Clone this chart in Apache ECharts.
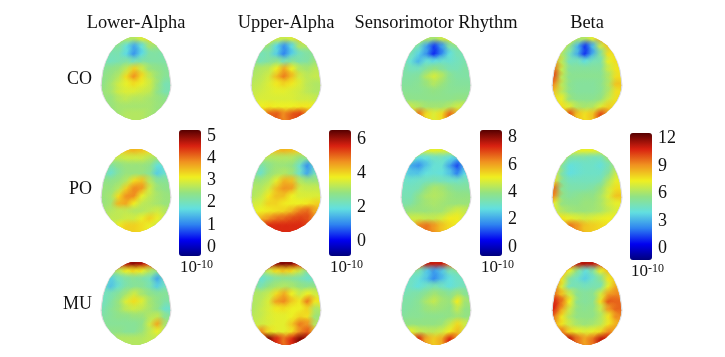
<!DOCTYPE html>
<html><head><meta charset="utf-8">
<style>html,body{margin:0;padding:0;background:#fff}#c{width:725px;height:357px}</style>
<script src="https://cdn.jsdelivr.net/npm/echarts@6/dist/echarts.min.js"></script>
</head><body><div id="c"></div>
<script>
const bandNames = ['Lower-Alpha','Upper-Alpha','Sensorimotor Rhythm','Beta'];
const groupNames = ['CO','PO','MU'];
const bandTicks = [[0,1,2,3,4,5],[0,2,4,6],[0,2,4,6,8],[0,3,6,9,12]];
const bandRanges = [[-0.5,5.2],[-1,6.4],[-0.8,8.4],[-1.5,12.4]];
const jet = ['#00007c','#0000f0','#2f84f0','#62e0e0','#92e284','#f0f020','#f09020','#d82010','#560000'];

// topographic values, sampled on a 9 x 11 grid over each head (x 10^-10)
const lowerCO = [
[2.4,2.4,2.5,2.6,2.6,2.9,3.2,2.6,2.4],[2.2,2.2,2.2,1.7,1.2,1.7,2.5,2.4,2.2],[2.0,2.0,2.0,1.6,1.05,1.6,2.1,2.1,2.0],
[2.1,1.9,2.0,2.1,1.9,2.1,2.1,2.1,2.1],[2.2,2.3,2.4,2.7,3.3,2.8,2.4,2.3,2.2],[2.3,2.4,2.6,3.2,3.75,3.2,2.7,2.4,2.2],
[2.3,2.5,2.8,3.0,3.2,3.0,2.8,2.4,2.0],[2.4,2.5,2.8,2.9,2.9,2.8,2.7,2.3,2.0],[2.4,2.4,2.6,2.7,2.6,2.6,2.5,2.4,2.3],
[2.4,2.4,2.5,2.5,2.5,2.5,2.5,2.4,2.4],[2.4,2.4,2.5,2.6,2.6,2.6,2.5,2.4,2.4]];
const upperCO = [
[3.3,3.3,3.4,3.3,3.2,3.4,3.9,3.3,3.2],[2.8,2.8,2.7,1.7,1.0,1.7,3.0,3.0,2.8],[2.4,2.2,2.3,1.6,0.85,1.6,2.2,2.4,2.6],
[2.7,2.2,2.4,2.6,2.2,2.5,2.3,2.4,2.8],[2.9,3.0,3.1,3.6,4.3,3.6,3.0,2.9,3.1],[3.0,3.1,3.3,4.1,4.7,4.1,3.3,3.1,3.2],
[3.1,3.2,3.4,3.7,3.9,3.7,3.4,3.1,3.0],[3.2,3.3,3.4,3.5,3.5,3.4,3.3,3.1,3.0],[3.3,3.4,3.4,3.4,3.4,3.4,3.3,3.3,3.2],
[3.6,3.6,3.7,3.6,3.6,3.6,3.7,3.7,3.6],[4.0,4.4,4.9,5.0,4.6,5.0,5.2,4.6,4.0]];
const smrCO = [
[4.2,4.2,4.2,4.2,4.0,4.5,5.0,4.2,4.0],[3.4,3.4,3.2,1.9,0.9,1.8,3.4,3.7,3.4],[3.2,3.2,2.5,1.7,0.7,1.6,2.7,3.2,3.2],
[3.3,2.8,2.1,2.8,2.6,2.9,2.9,3.1,3.3],[3.4,3.1,3.1,3.5,3.8,3.5,3.2,3.2,3.4],[3.4,3.4,3.5,4.2,4.6,4.2,3.6,3.4,3.4],
[3.5,3.5,3.6,3.9,4.2,3.9,3.6,3.5,3.5],[3.6,3.6,3.6,3.7,3.8,3.7,3.6,3.6,3.6],[3.8,3.7,3.7,3.7,3.7,3.7,3.7,3.8,3.8],
[4.5,4.4,4.2,4.0,4.0,4.0,4.2,4.5,4.5],[5.0,5.5,6.4,5.2,4.7,5.2,6.5,5.5,5.0]];
const betaCO = [
[7,7,6.5,6,6,7,8.5,8,7],[7,6.5,5.5,3,1.0,3,6.5,8,7.5],[7.5,6,4.5,2.8,0.9,2.8,5,7.5,7.5],
[8.5,6.2,4.4,4.5,3.8,4.5,4.7,7,7.5],[9.5,6.4,5,5,5,5,5,6.5,7.4],[10,6.2,5.2,5.2,5.2,5.2,5.2,6,7.5],
[9,6.2,5.2,5,5,5,5.2,6,8],[8,6.2,5.2,5,5,5,5.2,6,7.5],[7.5,7,5.5,5.2,5.2,5.2,5.5,6.5,7.5],
[7.5,7.5,6.8,6,5.8,6,6.8,7.8,7.5],[7.5,8.5,10,8,7.5,8,10,8.5,7.5]];
const lowerPO = [
[3.1,3.1,3.2,3.4,3.5,3.4,3.2,3.0,3.0],[2.6,2.7,2.7,2.8,2.8,2.8,2.6,2.4,2.4],[2.2,2.1,2.3,2.4,2.4,2.4,2.3,1.7,1.7],
[2.1,1.8,2.2,2.4,2.4,2.4,2.2,1.5,1.8],[2.3,2.3,2.4,2.6,3.2,3.4,2.6,2.2,2.2],[2.4,2.4,2.6,3.3,3.8,3.7,2.8,2.4,2.3],
[2.4,2.5,3.2,3.75,3.8,3.0,2.7,2.5,2.4],[2.4,2.5,3.5,3.6,3.1,2.7,2.6,2.5,2.4],[2.5,2.6,2.7,2.7,2.6,2.6,2.7,2.8,2.6],
[2.6,2.7,2.7,2.8,2.8,3.0,3.3,3.0,2.7],[2.7,2.8,3.1,3.3,3.3,3.2,3.0,2.8,2.7]];
const upperPO = [
[3.8,3.8,3.9,4.1,4.2,4.1,3.9,3.6,3.5],[3.0,3.0,3.0,3.0,3.0,3.0,2.7,2.5,2.6],[2.5,2.3,2.6,2.8,2.8,2.7,2.0,1.0,1.9],
[2.5,2.0,2.7,2.9,3.0,2.8,2.0,1.2,2.2],[2.8,2.8,3.0,3.5,4.2,4.1,3.0,2.8,2.8],[3.0,3.0,3.3,4.1,4.5,4.4,3.3,3.2,3.2],
[3.0,3.2,3.7,4.1,4.1,3.6,3.4,3.4,3.4],[3.3,3.4,3.9,3.9,3.7,3.6,3.6,3.7,3.9],[3.5,3.6,3.7,3.8,3.9,4.2,4.7,4.9,4.3],
[3.9,4.2,4.5,4.8,4.9,5.1,5.2,5.1,4.5],[4.6,5.2,5.4,5.4,5.4,5.4,5.4,5.2,4.6]];
const smrPO = [
[4.6,4.6,4.6,4.7,4.8,4.7,4.6,4.4,4.4],[3.2,3.2,2.6,2.7,3.0,3.0,2.6,2.2,3.0],[2.7,2.0,1.7,2.3,2.8,2.8,1.9,1.0,2.4],
[2.8,2.3,2.3,2.7,2.8,2.7,2.3,1.5,2.6],[3.0,2.9,3.0,3.1,3.2,3.1,3.0,3.0,3.2],[3.1,3.1,3.2,3.8,4.1,4.0,3.7,3.5,3.5],
[3.2,3.2,3.7,4.1,4.2,4.1,3.9,3.8,3.8],[3.3,3.4,3.8,4.0,4.1,4.0,3.9,3.9,3.9],[3.8,3.9,3.9,3.9,4.0,4.0,4.3,4.6,4.4],
[4.3,4.5,4.5,4.4,4.4,4.6,5.0,5.0,4.5],[4.8,5.4,6.2,6.4,6.0,5.5,5.2,4.9,4.6]];
const betaPO = [
[6.6,6.6,6.8,7,7,7,6.8,6.5,6.5],[6,6,4.8,4.6,4.6,4.4,4.4,5.6,6],[6.5,5,3.8,4,4.2,4.2,3.9,4.6,6],
[6.8,4.8,3.7,4,4.2,4.2,4.2,5,6.5],[7.5,5,4.4,4.4,4.4,4.4,4.6,6,7],[9.5,5.2,4.7,4.7,4.7,4.9,5.5,6.6,7.5],
[9,5.4,5,5.2,5.4,5.4,5.9,6.8,8],[7,5.5,5.4,5.4,5.6,5.6,5.9,6.6,7],[6.8,6,5.7,5.6,5.6,5.7,5.9,6.4,6.8],
[7.2,7.4,7,6.8,6.6,6.8,7,7.2,7],[7.2,8.4,9.4,8.8,8,7.8,7.6,7.4,7.2]];
const lowerMU = [
[3.2,3.6,4.2,4.7,4.9,4.7,4.2,3.5,3.0],[2.3,2.4,2.6,3.0,3.2,3.0,2.6,2.2,2.1],[2.0,1.5,1.9,2.1,2.2,2.1,1.9,1.2,1.9],
[1.9,1.4,1.8,2.1,2.2,2.2,2.0,1.5,1.9],[1.9,2.0,2.2,2.5,2.8,2.5,2.3,2.2,2.2],[1.9,2.1,2.4,2.9,3.2,2.9,2.5,2.3,2.1],
[2.0,2.2,2.4,2.7,2.8,2.7,2.5,2.3,1.8],[2.1,2.2,2.3,2.3,2.4,2.4,2.6,2.7,2.2],[2.2,2.2,2.2,2.2,2.2,2.3,2.8,3.6,2.5],
[2.3,2.3,2.3,2.2,2.2,2.4,2.7,3.0,2.6],[2.5,2.5,2.6,2.6,2.6,2.6,2.7,2.7,2.6]];
const upperMU = [
[3.6,4.5,5.5,6.0,6.1,6.0,5.4,4.3,3.5],[2.6,2.6,3.2,3.8,4.0,3.8,3.2,2.4,2.3],[2.3,1.9,2.2,2.5,2.6,2.5,2.3,2.0,2.1],
[2.7,2.2,2.7,2.9,3.0,2.9,2.7,2.6,2.7],[3.0,3.0,3.2,3.8,4.3,3.6,3.2,3.6,3.3],[3.0,3.1,3.4,4.4,4.6,4.0,3.7,4.7,3.7],
[3.0,3.2,3.4,3.7,3.8,3.6,3.6,3.9,3.0],[3.1,3.2,3.4,3.5,3.5,3.6,3.9,3.8,2.8],[3.2,3.3,3.4,3.5,3.5,4.0,4.7,4.5,3.0],
[3.8,4.6,3.8,3.5,3.5,3.8,4.6,5.0,4.0],[5,5.8,6.1,5.4,4.8,5.4,6.1,5.8,5]];
const smrMU = [
[4.5,5,6.5,7.5,7.4,7.4,6.5,5,4.4],[3.2,3.2,3.3,2.4,1.8,2.3,3.2,3.4,3.2],[3.0,3.0,2.8,2.3,1.6,2.2,2.7,3.0,3.0],
[3.0,3,2.7,3,3.2,3,2.7,3,3.2],[3.2,3.3,3.4,3.7,4,3.8,3.6,4,3.6],[3.4,3.4,3.6,4.1,4.4,4.0,3.9,5.0,4],
[3.4,3.5,3.6,3.9,4.0,3.9,3.8,4.4,3.8],[3.5,3.6,3.6,3.7,3.7,3.7,3.8,4,3.8],[3.8,3.8,3.8,3.8,3.8,3.9,4.4,5.2,4.5],
[4.5,4.8,4.4,4.3,4.3,4.5,5,5.6,4.6],[5,6.5,7.2,5.8,5.4,5.8,7.2,6,5]];
const betaMU = [
[7,8,10,11,11.2,11,10,8,7],[8,8,7,5.2,3.8,4.8,7,8,7.5],[8.5,7.5,5,4.2,3.4,4.2,5.2,7.4,8],
[9.2,6.8,4.4,4.6,4.4,4.6,4.6,7,8.5],[9.4,8,6.4,5.2,5,5.2,6.6,8.6,9],[10.6,9.4,7.2,5.2,5,5.2,7.5,9.8,9.6],
[10.6,8.6,6.5,5.4,5.2,5.4,6.4,8.8,9.6],[9.4,7.4,6,5.4,5.4,5.4,6,7.4,9],[8.6,7.4,6.4,5.8,5.6,5.8,6.2,7.4,8.4],
[9,9.2,7.6,7,6.8,7,7.6,9,8.6],[9,10.8,11,9.4,8.6,9.4,11,10.6,9]];
const headValues = [[lowerCO,upperCO,smrCO,betaCO],[lowerPO,upperPO,smrPO,betaPO],[lowerMU,upperMU,smrMU,betaMU]];

// layout (pixels)
const headX = [136,286,436,587], headY = [37,149,262], headW = 70, headH = 83;
const barX = [179,329,480,630], barY = [130,130,130,133], barW = 22, barH = [126,126,126,127];
const labelY = [79,189,304];
const FONT = '"Liberation Serif","Times New Roman",serif';
// half-widths of the skull outline, top to bottom
const outlineY =  [0,.02,.05,.10,.20,.30,.40,.50,.58,.64,.70,.77,.85,.92,.97,1];
const outlineHW = [.14,.27,.40,.56,.74,.85,.92,.955,.975,.96,.92,.84,.70,.52,.30,.08];

function outline(api, grow){
  const L=[],R=[];
  outlineY.forEach((f,i)=>{
    L.push(api.coord([4.5-outlineHW[i]*4.5*grow, f*11]));
    R.unshift(api.coord([4.5+outlineHW[i]*4.5*grow, f*11]));
  });
  return L.concat(R);
}
function cellItem(params, api){
  const p=api.coord([api.value(0),api.value(1)]), s=api.size([1,1]);
  return {type:'rect',shape:{x:p[0]-s[0]/2-.5,y:p[1]-s[1]/2-.5,width:s[0]+1,height:s[1]+1},
    style:{fill:api.visual('color')},clipPath:{type:'polygon',shape:{points:outline(api,1)}}};
}
function blobItem(params, api){
  const p=api.coord([api.value(0),api.value(1)]), s=api.size([1,1]), c=api.visual('color');
  return {type:'circle',shape:{cx:p[0],cy:p[1],r:s[0]*1.3},
    style:{fill:new echarts.graphic.RadialGradient(.5,.5,.5,[
      {offset:0,color:c},{offset:.25,color:c},{offset:1,color:echarts.color.modifyAlpha(c,0)}])},
    clipPath:{type:'polygon',shape:{points:outline(api,1)}}};
}
function skullItem(params, api){
  return {type:'polygon',shape:{points:outline(api,1.04)},style:{fill:'#dcdcdc'}};
}

const grid=[],xAxis=[],yAxis=[],series=[],visualMap=[],title=[],graphic=[];
const bandSeries=[[],[],[],[]];
headValues.forEach((row,r)=>row.forEach((vals,b)=>{
  const i=grid.length;
  grid.push({left:headX[b]-headW/2,top:headY[r],width:headW,height:headH});
  xAxis.push({gridIndex:i,type:'value',min:0,max:9,show:false});
  yAxis.push({gridIndex:i,type:'value',min:0,max:11,inverse:true,show:false});
  const data=[];
  vals.forEach((line,y)=>line.forEach((v,x)=>data.push([x+.5,y+.5,v])));
  const base={type:'custom',coordinateSystem:'cartesian2d',xAxisIndex:i,yAxisIndex:i,silent:true,animation:false};
  series.push(Object.assign({},base,{data:[[0,0]],renderItem:skullItem,z:1}));
  bandSeries[b].push(series.length); series.push(Object.assign({},base,{data,renderItem:cellItem,z:2}));
  bandSeries[b].push(series.length); series.push(Object.assign({},base,{data,renderItem:blobItem,z:3}));
}));
bandNames.forEach((name,b)=>{
  title.push({text:name,left:headX[b],top:23,textAlign:'center',textVerticalAlign:'middle',padding:0,
    textStyle:{fontFamily:FONT,fontSize:18.4,fontWeight:'normal',color:'#111'}});
  const [min,max]=bandRanges[b];
  visualMap.push({type:'continuous',min,max,dimension:2,seriesIndex:bandSeries[b],show:true,calculable:false,
    left:barX[b],top:barY[b],itemWidth:barW,itemHeight:barH[b],padding:0,text:['',''],showLabel:false,
    inRange:{color:jet},hoverLink:false});
  const i=grid.length;
  grid.push({left:barX[b],top:barY[b]+2,width:barW,height:barH[b]});
  xAxis.push({gridIndex:i,type:'value',show:false,min:0,max:1});
  yAxis.push({gridIndex:i,type:'value',position:'right',min,max,
    axisLine:{show:false},axisTick:{show:false},splitLine:{show:false},
    axisLabel:{customValues:bandTicks[b],margin:6,fontFamily:FONT,fontSize:18,color:'#111'}});
  graphic.push({type:'text',left:barX[b]+1,top:barY[b]+barH[b]+3,z:10,
    style:{text:'{a|10}{s|-10}',fontFamily:FONT,rich:{
      a:{fontFamily:FONT,fontSize:17,fill:'#111',color:'#111'},
      s:{fontFamily:FONT,fontSize:12,fill:'#111',color:'#111',verticalAlign:'top'}}}});
});
groupNames.forEach((g,r)=>{
  graphic.push({type:'text',x:92,y:labelY[r],z:10,
    style:{text:g,fontFamily:FONT,fontSize:18,fill:'#111',align:'right',verticalAlign:'middle'}});
});
const chart=echarts.init(document.getElementById('c'),null,{renderer:'canvas'});
chart.setOption({animation:false,backgroundColor:'#fff',title,grid,xAxis,yAxis,series,visualMap,graphic});
</script></body></html>
